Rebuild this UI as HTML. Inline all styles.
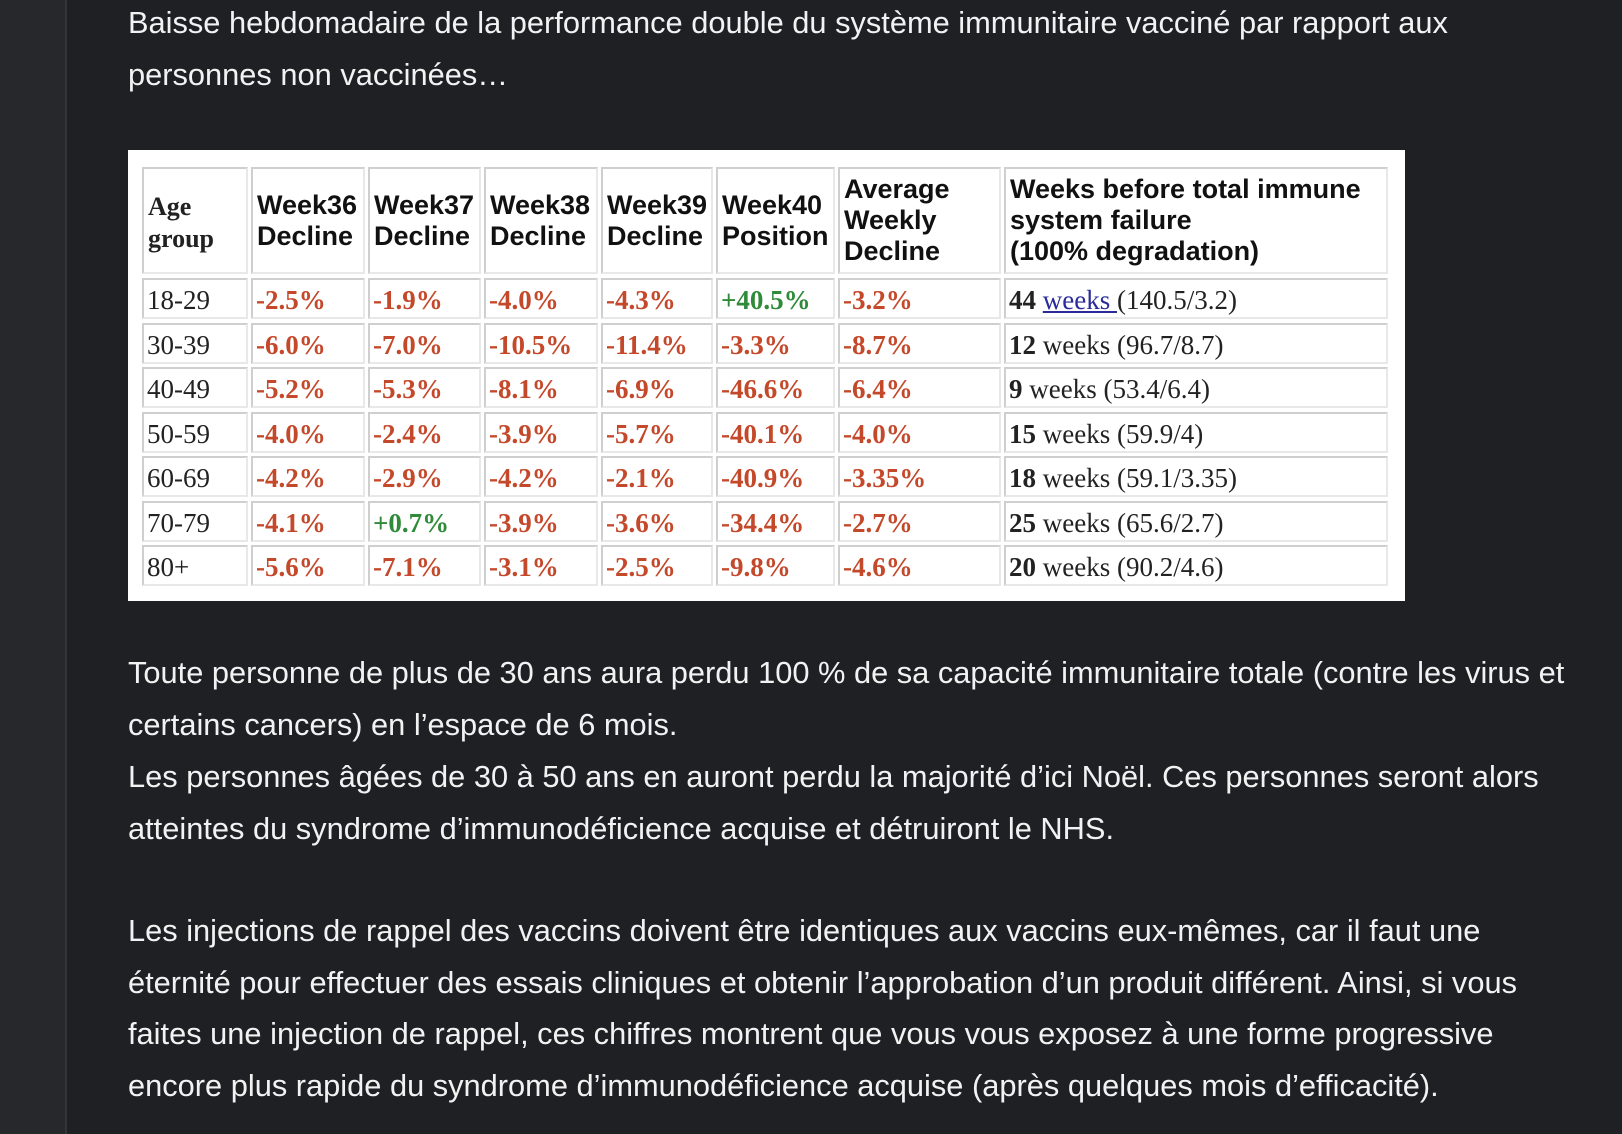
<!DOCTYPE html>
<html><head><meta charset="utf-8"><style>
*{margin:0;padding:0;box-sizing:border-box}
body{width:1622px;height:1134px;background:#1f2024;position:relative;overflow:hidden;font-family:"Liberation Sans",sans-serif}
#side{position:absolute;left:0;top:0;width:67px;height:1134px;background:#27282c;border-right:2px solid #34353a}
.t{position:absolute;left:128px;color:#f2f2f2;font-size:30.8px;white-space:nowrap;line-height:34px}
#box{position:absolute;left:128px;top:150px;width:1277px;height:451px;background:#fff}
.c{position:absolute;border:2px solid #ddd;border-right-color:#e8e8e8;border-bottom-color:#e8e8e8;border-top-color:#cfcfcf;border-left-color:#cfcfcf;overflow:hidden;white-space:nowrap}
.h{font-family:"Liberation Sans",sans-serif;font-weight:bold;font-size:27px;line-height:31px;color:#111;padding:4px 4px}
.hs{font-family:"Liberation Serif",serif;font-weight:bold;font-size:26px;line-height:32px;color:#222;padding:22px 4px}
.d{font-family:"Liberation Serif",serif;font-size:27px;line-height:40px;padding-left:3px;color:#222}
.r{color:#c4482a;font-weight:bold}
.g{color:#2f8a3a;font-weight:bold}
.u{color:#2a2a9a;text-decoration:underline}
</style></head><body>
<div id="side"></div>
<div class="t" style="top:6px">Baisse hebdomadaire de la performance double du système immunitaire vacciné par rapport aux</div>
<div class="t" style="top:58px">personnes non vaccinées…</div>
<div id="box"></div>
<div id="tbl"></div>
<script>
var xs=[142,251,368,484,601,716,838,1004,1391];
var heads=[['Age','group'],['Week36','Decline'],['Week37','Decline'],['Week38','Decline'],['Week39','Decline'],['Week40','Position'],['Average','Weekly','Decline'],['Weeks before total immune','system failure','(100% degradation)']];
var rows=[
['18-29','-2.5%','-1.9%','-4.0%','-4.3%','+40.5%','-3.2%','<b>44</b> <span class="u">weeks </span> (140.5/3.2)'],
['30-39','-6.0%','-7.0%','-10.5%','-11.4%','-3.3%','-8.7%','<b>12</b> weeks (96.7/8.7)'],
['40-49','-5.2%','-5.3%','-8.1%','-6.9%','-46.6%','-6.4%','<b>9</b> weeks (53.4/6.4)'],
['50-59','-4.0%','-2.4%','-3.9%','-5.7%','-40.1%','-4.0%','<b>15</b> weeks (59.9/4)'],
['60-69','-4.2%','-2.9%','-4.2%','-2.1%','-40.9%','-3.35%','<b>18</b> weeks (59.1/3.35)'],
['70-79','-4.1%','+0.7%','-3.9%','-3.6%','-34.4%','-2.7%','<b>25</b> weeks (65.6/2.7)'],
['80+','-5.6%','-7.1%','-3.1%','-2.5%','-9.8%','-4.6%','<b>20</b> weeks (90.2/4.6)']];
var h='';
for(var i=0;i<8;i++){var w=xs[i+1]-xs[i]-3;
 var cls=i==0?'c hs':'c h';var pad=(i==6||i==7)?'padding-top:5px':(i==0?'':'padding-top:21px');
 h+='<div class="'+cls+'" style="left:'+xs[i]+'px;top:167px;width:'+w+'px;height:107px;'+pad+'">'+heads[i].join('<br>')+'</div>';}
for(var r=0;r<7;r++){var y=278+r*44.5;
 for(var i=0;i<8;i++){var w=xs[i+1]-xs[i]-3;var v=rows[r][i];var cl='';
  if(i>0&&i<7)cl=v[0]=='+'?'g':'r';
  h+='<div class="c d" style="left:'+xs[i]+'px;top:'+y+'px;width:'+w+'px;height:41px"><span class="'+cl+'">'+v+'</span></div>';}}
document.getElementById('tbl').innerHTML=h;
</script>
<div class="t" style="top:656px">Toute personne de plus de 30 ans aura perdu 100 % de sa capacité immunitaire totale (contre les virus et</div>
<div class="t" style="top:708px">certains cancers) en l’espace de 6 mois.</div>
<div class="t" style="top:760px">Les personnes âgées de 30 à 50 ans en auront perdu la majorité d’ici Noël. Ces personnes seront alors</div>
<div class="t" style="top:812px">atteintes du syndrome d’immunodéficience acquise et détruiront le NHS.</div>
<div class="t" style="top:914px">Les injections de rappel des vaccins doivent être identiques aux vaccins eux-mêmes, car il faut une</div>
<div class="t" style="top:966px">éternité pour effectuer des essais cliniques et obtenir l’approbation d’un produit différent. Ainsi, si vous</div>
<div class="t" style="top:1017px">faites une injection de rappel, ces chiffres montrent que vous vous exposez à une forme progressive</div>
<div class="t" style="top:1069px">encore plus rapide du syndrome d’immunodéficience acquise (après quelques mois d’efficacité).</div>
</body></html>
